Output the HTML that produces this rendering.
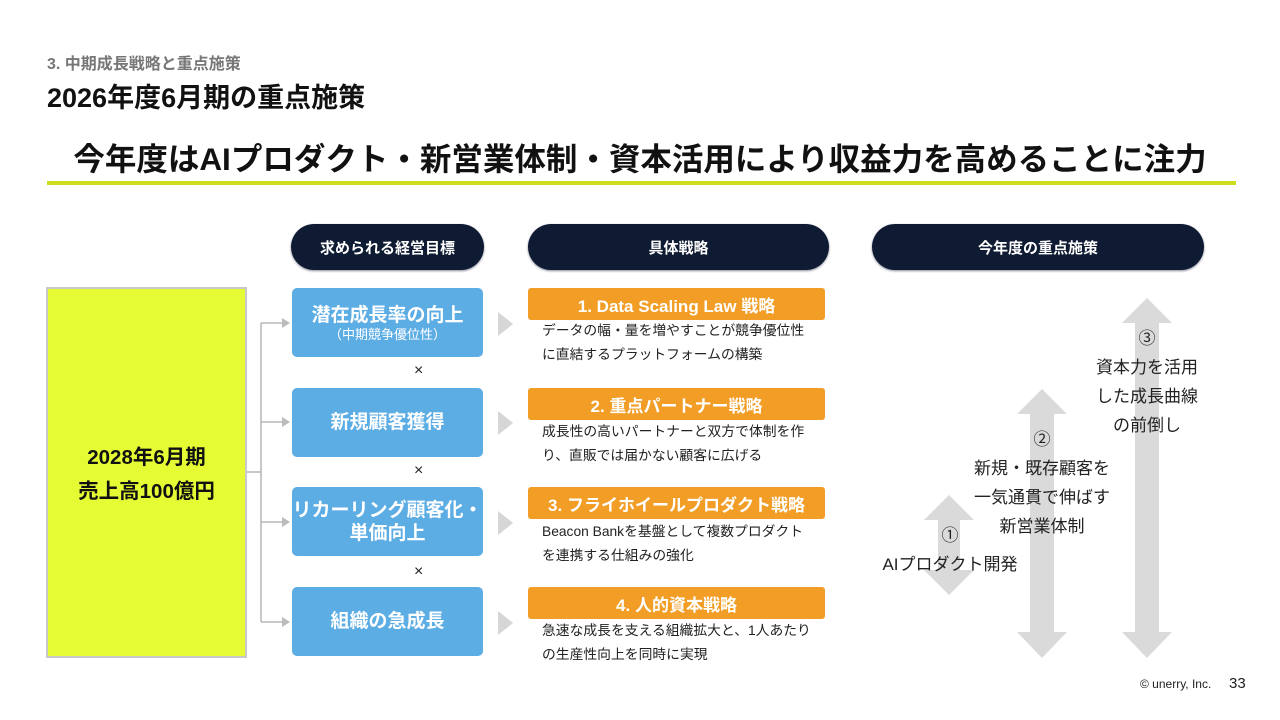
<!DOCTYPE html>
<html><head><meta charset="utf-8"><style>
*{margin:0;padding:0;box-sizing:border-box}
body{width:1280px;height:720px;background:#fff;position:relative;overflow:hidden;font-family:"Liberation Sans","Noto Sans CJK JP",sans-serif;color:#111}
.a{position:absolute}
.pill{position:absolute;background:#0f1b33;color:#fff;border-radius:24px;height:46px;top:224px;display:flex;align-items:center;justify-content:center;font-size:15px;font-weight:bold;box-shadow:0 1px 2px #889}
.blue{position:absolute;left:292px;width:191px;height:69px;background:#5dade5;border-radius:5px;color:#fff;font-weight:bold;font-size:19px;display:flex;flex-direction:column;align-items:center;justify-content:center;line-height:23px;text-align:center}
.or{position:absolute;left:528px;width:297px;height:32px;background:#f29d26;border-radius:3px;color:#fff;font-weight:bold;font-size:17px;display:flex;align-items:center;justify-content:center}
.desc{position:absolute;left:542px;font-size:13.8px;line-height:24px;color:#222}
.x{position:absolute;left:414px;font-size:16px;color:#222}
.tri{position:absolute;left:498px;width:0;height:0;border-top:12px solid transparent;border-bottom:12px solid transparent;border-left:15px solid #d6d6d6}
.lbl{position:absolute;text-align:center;font-size:17px;line-height:29px;color:#222}
</style></head><body>
<div class="a" style="left:47px;top:50px;font-size:16px;color:#777;font-weight:bold">3. 中期成長戦略と重点施策</div>
<div class="a" style="left:47px;top:76px;font-size:27px;font-weight:bold">2026年度6月期の重点施策</div>
<div class="a" style="left:0;width:1280px;top:134px;text-align:center;font-size:31.5px;font-weight:bold">今年度はAIプロダクト・新営業体制・資本活用により収益力を高めることに注力</div>
<div class="a" style="left:47px;top:181px;width:1189px;height:4px;background:#cddc1f"></div>

<div class="pill" style="left:291px;width:193px">求められる経営目標</div>
<div class="pill" style="left:528px;width:301px">具体戦略</div>
<div class="pill" style="left:872px;width:332px">今年度の重点施策</div>

<div class="a" style="left:46px;top:287px;width:201px;height:371px;background:#e5fc35;border:2px solid #c8c8c8;display:flex;align-items:center;justify-content:center;text-align:center;font-size:20.5px;font-weight:bold;line-height:34px;padding-top:4px">2028年6月期<br>売上高100億円</div>

<svg class="a" style="left:0;top:0" width="1280" height="720">
<g stroke="#aaa" stroke-width="1.3" fill="none">
<line x1="247" y1="472" x2="261" y2="472"/>
<line x1="261" y1="323" x2="261" y2="622"/>
<line x1="261" y1="323" x2="282" y2="323"/>
<line x1="261" y1="422" x2="282" y2="422"/>
<line x1="261" y1="522" x2="282" y2="522"/>
<line x1="261" y1="622" x2="282" y2="622"/>
</g>
<g fill="#bbb">
<polygon points="282,318 290,323 282,328"/><polygon points="282,417 290,422 282,427"/>
<polygon points="282,517 290,522 282,527"/><polygon points="282,617 290,622 282,627"/>
</g>
<g fill="#dadada">
<polygon points="949,495 974,520 960,520 960,570 974,570 949,595 924,570 938,570 938,520 924,520"/>
<polygon points="1042,389 1067,414 1054,414 1054,632 1067,632 1042,658 1017,632 1030,632 1030,414 1017,414"/>
<polygon points="1147,298 1172,323 1159,323 1159,632 1172,632 1147,658 1122,632 1135,632 1135,323 1122,323"/>
</g>
</svg>

<div class="blue" style="top:288px">潜在成長率の向上<span style="font-size:13px;font-weight:normal;line-height:15px">（中期競争優位性）</span></div>
<div class="blue" style="top:388px">新規顧客獲得</div>
<div class="blue" style="top:487px">リカーリング顧客化・<br>単価向上</div>
<div class="blue" style="top:587px">組織の急成長</div>
<div class="x" style="top:362px">×</div>
<div class="x" style="top:462px">×</div>
<div class="x" style="top:563px">×</div>

<div class="tri" style="top:312px"></div>
<div class="tri" style="top:411px"></div>
<div class="tri" style="top:511px"></div>
<div class="tri" style="top:611px"></div>

<div class="or" style="top:288px">1. Data Scaling Law 戦略</div>
<div class="desc" style="top:319px">データの幅・量を増やすことが競争優位性<br>に直結するプラットフォームの構築</div>
<div class="or" style="top:388px">2. 重点パートナー戦略</div>
<div class="desc" style="top:420px">成長性の高いパートナーと双方で体制を作<br>り、直販では届かない顧客に広げる</div>
<div class="or" style="top:487px">3. フライホイールプロダクト戦略</div>
<div class="desc" style="top:520px">Beacon Bankを基盤として複数プロダクト<br>を連携する仕組みの強化</div>
<div class="or" style="top:587px">4. 人的資本戦略</div>
<div class="desc" style="top:619px">急速な成長を支える組織拡大と、1人あたり<br>の生産性向上を同時に実現</div>

<div class="lbl" style="left:870px;width:160px;top:521px">①<br>AIプロダクト開発</div>
<div class="lbl" style="left:952px;width:180px;top:425px">②<br>新規・既存顧客を<br>一気通貫で伸ばす<br>新営業体制</div>
<div class="lbl" style="left:1077px;width:140px;top:324px">③<br>資本力を活用<br>した成長曲線<br>の前倒し</div>

<div class="a" style="left:1140px;top:677px;font-size:12px;color:#222">© unerry, Inc.</div>
<div class="a" style="left:1229px;top:675px;font-size:15px;color:#222">33</div>
</body></html>
